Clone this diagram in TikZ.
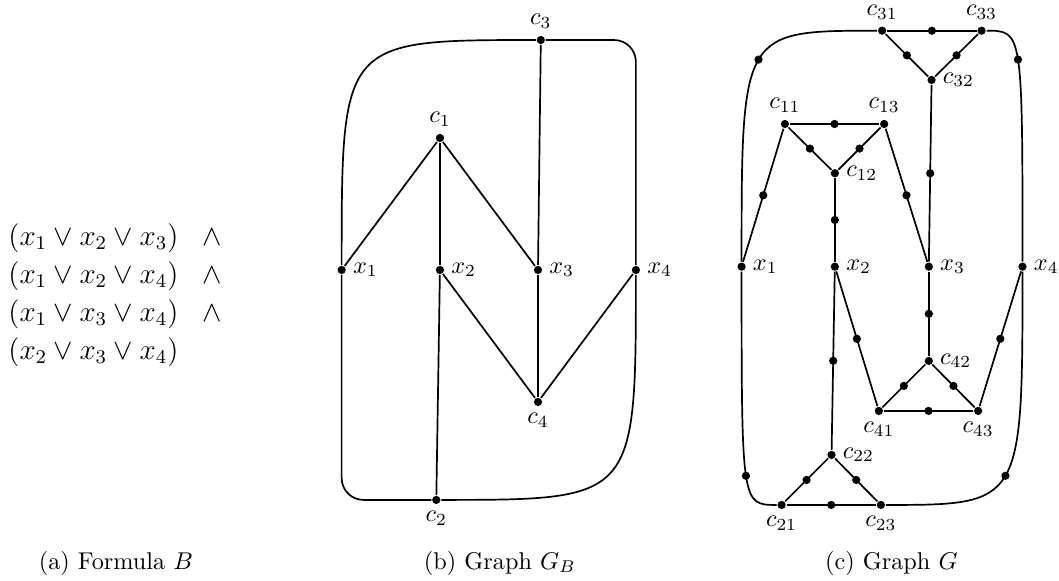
\documentclass[tikz,border=0pt]{standalone}
\usepackage{amsmath,amssymb}
\usepackage{tikz}
\usetikzlibrary{positioning,calc}

\begin{document}
\begin{tikzpicture}[line width=0.7pt,label distance=0.8pt,
  every label/.style={inner sep=1.5pt},
  v/.style={circle,fill=black,inner sep=0pt,minimum size=3.4pt},
  fl/.style={anchor=base west,inner sep=0pt,font=\large},
  subcap/.style={inner sep=0pt}]
  \useasboundingbox (0,0) rectangle (15.35,8.42);
  % formula B
  \node[fl](f1) at (0.11,4.862){$(x_1\lor x_2\lor x_3)\quad\!\land$};
  \node[fl](f2) at (0.11,4.311){$(x_1\lor x_2\lor x_4)\quad\!\land$};
  \node[fl](f3) at (0.11,3.761){$(x_1\lor x_3\lor x_4)\quad\!\land$};
  \node[fl](f4) at (0.11,3.210){$(x_2\lor x_3\lor x_4)$};
  \node[subcap](capa) at (1.68,0.26){(a) Formula $B$};
  % graph G_B
  \begin{scope}[xshift=4.952cm,yshift=4.507cm]
   \node[v,label=right:$x_1$](bx1) at (0,0){};\node[v,label=right:$x_2$](bx2) at (1.425,0){};
   \node[v,label=right:$x_3$](bx3) at (2.846,0){};\node[v,label=right:$x_4$](bx4) at (4.265,0){};
   \node[v,label=above:$c_1$](bc1) at (1.425,1.913){};\node[v,label=above:$c_3$](bc3) at (2.887,3.333){};
   \node[v,label=below:$c_4$](bc4) at (2.846,-1.913){};\node[v,label=below:$c_2$](bc2) at (1.372,-3.333){};
   \coordinate (btl) at (0,3.333);\coordinate (bbr) at (4.265,-3.333);
   \draw(bc1)--(bx1);\draw(bc1)--(bx2);\draw(bc1)--(bx3);
   \draw(bc4)--(bx2);\draw(bc4)--(bx3);\draw(bc4)--(bx4);
   \draw(bc2)--(bx2);\draw(bc3)--(bx3);
   \draw(bx1) .. controls (btl) and (btl) .. (bc3);
   \draw[rounded corners=9pt](bc3) -| (bx4);
   \draw(bx4) .. controls (bbr) and (bbr) .. (bc2);
   \draw[rounded corners=9pt](bc2) -| (bx1);
  \end{scope}
  \node[subcap](capb) at (7.246,0.26){(b) Graph $G_B$};
  % graph G
  \begin{scope}[xshift=10.749cm,yshift=4.555cm]
   \node[v,label=right:$x_1$](x1) at (0,0){};\node[v,label=right:$x_2$](x2) at (1.352,0){};
   \node[v,label=right:$x_3$](x3) at (2.714,0){};\node[v,label=right:$x_4$](x4) at (4.072,0){};
   \node[v,label=above:$c_{11}$](c11) at (0.628,2.068){};\node[v,label=right:$c_{12}$](c12) at (1.352,1.354){};
   \node[v,label=above:$c_{13}$](c13) at (2.067,2.068){};
   \node[v,label=above:$c_{31}$](c31) at (2.038,3.42){};\node[v,label=right:$c_{32}$](c32) at (2.754,2.706){};
   \node[v,label=above:$c_{33}$](c33) at (3.478,3.42){};
   \node[v,label=below:$c_{41}$](c41) at (1.99,-2.091){};\node[v,label=right:$c_{42}$](c42) at (2.714,-1.367){};
   \node[v,label=below:$c_{43}$](c43) at (3.429,-2.091){};
   \node[v,label=below:$c_{21}$](c21) at (0.58,-3.454){};\node[v,label=right:$c_{22}$](c22) at (1.304,-2.729){};
   \node[v,label=below:$c_{23}$](c23) at (2.019,-3.454){};
   \coordinate (tl) at (0,3.42);\coordinate (tr) at (4.072,3.42);
   \coordinate (bl) at (0,-3.454);\coordinate (br) at (4.072,-3.454);
   % triangles
   \draw(c11)--node[v]{}(c12);\draw(c12)--node[v]{}(c13);\draw(c11)--node[v]{}(c13);
   \draw(c31)--node[v]{}(c32);\draw(c32)--node[v]{}(c33);\draw(c31)--node[v]{}(c33);
   \draw(c41)--node[v]{}(c42);\draw(c42)--node[v]{}(c43);\draw(c41)--node[v]{}(c43);
   \draw(c21)--node[v]{}(c22);\draw(c22)--node[v]{}(c23);\draw(c21)--node[v]{}(c23);
   % clause to literal
   \draw(c11)--node[v]{}(x1);\draw(c12)--node[v]{}(x2);\draw(c13)--node[v]{}(x3);
   \draw(c32)--node[v]{}(x3);\draw(c42)--node[v]{}(x3);
   \draw(c41)--node[v]{}(x2);\draw(c43)--node[v]{}(x4);\draw(c22)--node[v]{}(x2);
   \draw(x1) .. controls (tl) and (tl) .. (c31) node[v,pos=0.5]{};
   \draw(c33) .. controls (tr) and (tr) .. (x4) node[v,pos=0.5]{};
   \draw(x1) .. controls (bl) and (bl) .. (c21) node[v,pos=0.5]{};
   \draw(x4) .. controls (br) and (br) .. (c23) node[v,pos=0.5]{};
  \end{scope}
  \node[subcap](capc) at (12.92,0.26){(c) Graph $G$};
\end{tikzpicture}
\end{document}
